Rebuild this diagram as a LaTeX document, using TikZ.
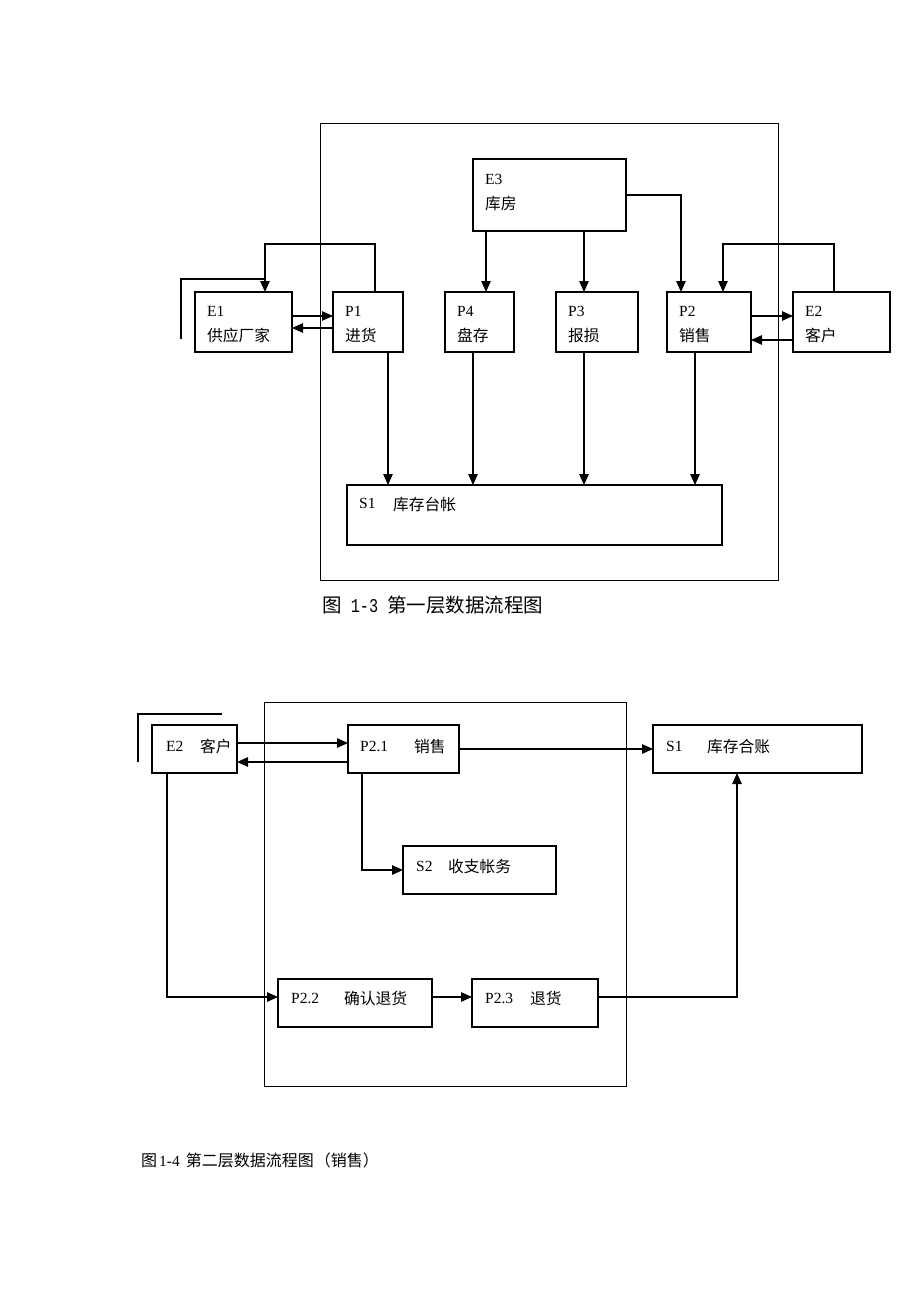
\documentclass[tikz,border=0pt]{standalone}
\usepackage{fontspec}
\setmainfont{Liberation Serif}
\newfontfamily\cjk{Noto Sans CJK SC}
\newfontfamily\monofnt[FakeStretch=0.78]{Liberation Mono}
\usetikzlibrary{arrows.meta}
\begin{document}
\begin{tikzpicture}[x=1pt,y=-1pt,
  box/.style={draw, line width=1.1pt, inner sep=0pt, outer sep=0pt},
  frame/.style={draw, line width=1pt, inner sep=0pt, outer sep=0pt},
  arr/.style={line width=1.2pt, -{Triangle[length=11pt,width=9.5pt]}},
  ln/.style={line width=1.1pt},
  lat/.style={anchor=base west, inner sep=0pt, font=\fontsize{15.5}{18}\selectfont},
  zh/.style={anchor=base west, inner sep=0pt, font=\fontsize{15.75}{18}\cjk}]
\useasboundingbox[fill=white] (0,0) rectangle (920,1302);

% ---------------- Top diagram ----------------
\node[frame, minimum width=458pt, minimum height=457pt] (F1) at (549,351.5) {};
\node[box, minimum width=153pt, minimum height=72pt] (E3) at (549.5,195) {};
\node[box, minimum width=97pt, minimum height=60pt] (E1) at (243.5,322) {};
\node[box, minimum width=70pt, minimum height=60pt] (P1) at (368,322) {};
\node[box, minimum width=69pt, minimum height=60pt] (P4) at (479.5,322) {};
\node[box, minimum width=82pt, minimum height=60pt] (P3) at (597,322) {};
\node[box, minimum width=84pt, minimum height=60pt] (P2) at (709,322) {};
\node[box, minimum width=97pt, minimum height=60pt] (E2) at (841.5,322) {};
\node[box, minimum width=375pt, minimum height=60pt] (S1) at (534.5,515) {};

\node[lat] (tE3) at (485,184) {E3};
\node[zh] (zE3) at (485,209) {库房};
\node[lat] (tE1) at (207,316) {E1};
\node[zh] (zE1) at (207,341) {供应厂家};
\node[lat] (tP1) at (345,316) {P1};
\node[zh] (zP1) at (345,341) {进货};
\node[lat] (tP4) at (457,316) {P4};
\node[zh] (zP4) at (457,341) {盘存};
\node[lat] (tP3) at (568,316) {P3};
\node[zh] (zP3) at (568,341) {报损};
\node[lat] (tP2) at (679,316) {P2};
\node[zh] (zP2) at (679,341) {销售};
\node[lat] (tE2) at (805,316) {E2};
\node[zh] (zE2) at (805,341) {客户};
\node[lat] (tS1) at (359,508) {S1};
\node[zh] (zS1) at (393,510) {库存台帐};

% external-entity mark
\coordinate (m1a) at (181,339);
\coordinate (m1b) at (181,279);
\coordinate (m1c) at (265,279);
\draw[ln] (m1a) -- (m1b) -- (m1c);

% E3 flows
\draw[arr] ([xshift=-63.5]E3.south) -- ([xshift=6.5]P4.north);
\draw[arr] ([xshift=34.5]E3.south) -- ([xshift=-13]P3.north);
\draw[arr] (E3.east) -| ([xshift=-28]P2.north);
% P1 <-> E1
\draw[arr] ([xshift=7]P1.north) -- ++(0,-48) -| ([xshift=21.5]E1.north);
\draw[arr] ([yshift=6]E1.east) -- ([yshift=6]P1.west);
\draw[arr] ([yshift=-6]P1.west) -- ([yshift=-6]E1.east);
% P2 <-> E2
\draw[arr] ([xshift=-7.5]E2.north) -- ++(0,-48) -| ([xshift=14]P2.north);
\draw[arr] ([yshift=6]P2.east) -- ([yshift=6]E2.west);
\draw[arr] ([yshift=-18]E2.west) -- ([yshift=-18]P2.east);
% to S1
\draw[arr] ([xshift=20]P1.south) -- ([xshift=-146.5]S1.north);
\draw[arr] ([xshift=-6.5]P4.south) -- ([xshift=-61.5]S1.north);
\draw[arr] ([xshift=-13]P3.south) -- ([xshift=49.5]S1.north);
\draw[arr] ([xshift=-14]P2.south) -- ([xshift=160.5]S1.north);

\node[anchor=base west, inner sep=0pt] (cap1) at (322,612)
  {\fontsize{19.5}{22}\cjk 图{\monofnt\ 1-3\ }第一层数据流程图};

% ---------------- Bottom diagram ----------------
\node[frame, minimum width=362pt, minimum height=384pt] (F2) at (445,894) {};
\node[box, minimum width=85pt, minimum height=48pt] (BE2) at (194.5,749) {};
\node[box, minimum width=111pt, minimum height=48pt] (P21) at (403.5,749) {};
\node[box, minimum width=209pt, minimum height=48pt] (BS1) at (757.5,749) {};
\node[box, minimum width=153pt, minimum height=48pt] (S2) at (479.5,870) {};
\node[box, minimum width=154pt, minimum height=48pt] (P22) at (355,1003) {};
\node[box, minimum width=126pt, minimum height=48pt] (P23) at (535,1003) {};

\node[lat] (tBE2) at (166,751) {E2};
\node[zh] (zBE2) at (200,752) {客户};
\node[lat] (tP21) at (360,751) {P2.1};
\node[zh] (zP21) at (414,752) {销售};
\node[lat] (tBS1) at (666,751) {S1};
\node[zh] (zBS1) at (707,752) {库存合账};
\node[lat] (tS2) at (416,871) {S2};
\node[zh] (zS2) at (448,872) {收支帐务};
\node[lat] (tP22) at (291,1003) {P2.2};
\node[zh] (zP22) at (344,1004) {确认退货};
\node[lat] (tP23) at (485,1003) {P2.3};
\node[zh] (zP23) at (530,1004) {退货};

\coordinate (m2a) at (138,762);
\coordinate (m2b) at (138,714);
\coordinate (m2c) at (222,714);
\draw[ln] (m2a) -- (m2b) -- (m2c);

\draw[arr] ([yshift=6]BE2.east) -- ([yshift=6]P21.west);
\draw[arr] ([yshift=-13]P21.west) -- ([yshift=-13]BE2.east);
\draw[arr] (P21.east) -- (BS1.west);
\draw[arr] ([xshift=-41.5]P21.south) |- (S2.west);
\draw[arr] ([xshift=-27.5]BE2.south) |- ([yshift=6]P22.west);
\draw[arr] ([yshift=6]P22.east) -- ([yshift=6]P23.west);
\draw[arr] ([yshift=6]P23.east) -| ([xshift=-20.5]BS1.south);

\node[anchor=base west, inner sep=0pt] (cap2) at (141,1166)
  {\fontsize{16}{18}\cjk 图{\fontsize{15.5}{18}\rmfamily\hspace{2pt}1-4\hspace{6pt}}第二层数据流程图\hspace{1pt}（销售）};
\end{tikzpicture}
\end{document}
